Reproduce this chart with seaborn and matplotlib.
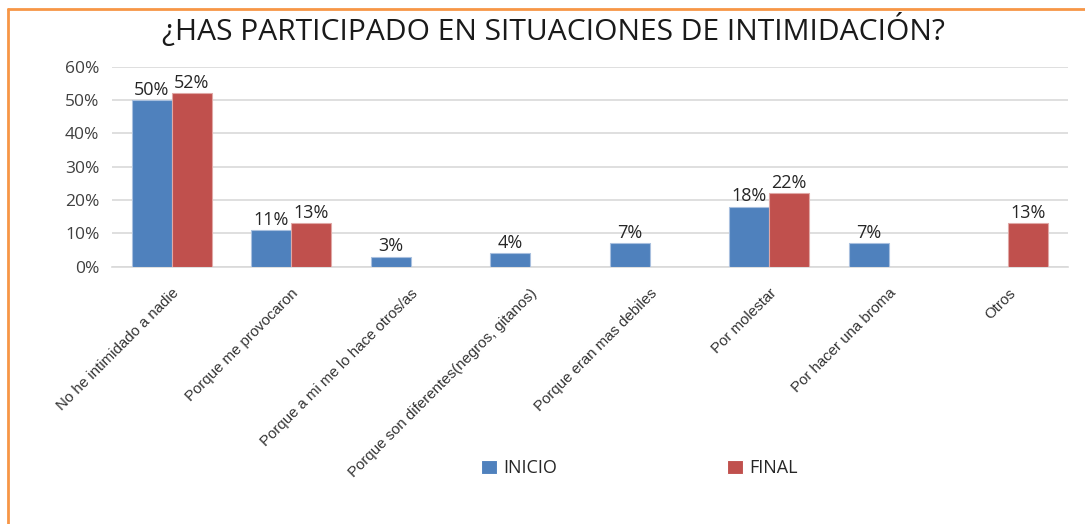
import matplotlib
matplotlib.use("Agg")
import matplotlib.pyplot as plt
import seaborn as sns
import pandas as pd
from matplotlib.ticker import PercentFormatter, MultipleLocator
from matplotlib.lines import Line2D

categories = [
    "No he intimidado a nadie",
    "Porque me provocaron",
    "Porque a mi me lo hace otros/as",
    "Porque son diferentes(negros, gitanos)",
    "Porque eran mas debiles",
    "Por molestar",
    "Por hacer una broma",
    "Otros",
]
inicio = [0.50, 0.11, 0.03, 0.04, 0.07, 0.18, 0.07, None]
final = [0.52, 0.13, None, None, None, 0.22, None, 0.13]
series = ["INICIO", "FINAL"]
title = "¿HAS PARTICIPADO EN SITUACIONES DE INTIMIDACIÓN?"

rows = []
for c, a, b in zip(categories, inicio, final):
    if a is not None:
        rows.append({"cat": c, "serie": "INICIO", "val": a})
    if b is not None:
        rows.append({"cat": c, "serie": "FINAL", "val": b})
df = pd.DataFrame(rows)

sns.set_theme(style="white")
plt.rcParams["font.family"] = ["Liberation Sans", "DejaVu Sans"]

fig = plt.figure(figsize=(10.85, 5.24), dpi=100)
ax = fig.add_axes([0.1032, 0.491, 0.881, 0.3817])

sns.barplot(data=df, x="cat", y="val", hue="serie", order=categories,
            hue_order=series, palette=["#4F81BD", "#C0504D"], saturation=1,
            errorbar=None, width=0.67, ax=ax, linewidth=0.8, zorder=3)
for cont, ec in zip(ax.containers, ["#a9c0df", "#e0a8a6"]):
    for p in cont:
        p.set_edgecolor(ec)

ax.set_ylim(0, 0.6)
ax.yaxis.set_major_locator(MultipleLocator(0.1))
ax.yaxis.set_major_formatter(PercentFormatter(1.0, decimals=0))
ax.grid(axis="y", color="#d9d9d9", linewidth=1.2, zorder=0)
ax.set_axisbelow(True)
for s in ["top", "right", "left"]:
    ax.spines[s].set_visible(False)
ax.spines["bottom"].set_color("#d9d9d9")
ax.spines["bottom"].set_linewidth(1.2)
ax.set_xlabel("")
ax.set_ylabel("")
ax.tick_params(axis="y", labelsize=12.5, colors="#404040", pad=9, length=0)
for t in ax.get_yticklabels():
    t.set_family(["Open Sans", "DejaVu Sans"])
ax.tick_params(axis="x", length=0, pad=14)
ax.set_xticks(range(len(categories)))
ax.set_xticklabels(categories, rotation=45, ha="right", rotation_mode="anchor",
                   fontsize=10.8, color="#333333")
ax.set_xlim(-0.5, len(categories) - 0.5)

for cont in ax.containers:
    ax.bar_label(cont, labels=[f"{p.get_height()*100:.0f}%" for p in cont],
                 fontsize=13, color="#262626", padding=1,
                 family=["Open Sans", "DejaVu Sans"])

leg = ax.legend(loc="center", bbox_to_anchor=(0.552, -1.0065), ncol=2,
                frameon=False, fontsize=13, handlelength=0.9,
                handleheight=0.8, columnspacing=9.4, handletextpad=0.35,
                borderpad=0, borderaxespad=0)
for t in leg.get_texts():
    t.set_color("#262626")
    t.set_family(["Open Sans", "DejaVu Sans"])

fig.text(0.51, 0.942, title, ha="center", va="center", fontsize=21.6,
         color="#1a1a1a", family=["Open Sans", "DejaVu Sans"])

# orange border (left and top edges)
fig.add_artist(Line2D([7.5 / 1085, 7.5 / 1085], [0, 1 - 8.5 / 524],
                      transform=fig.transFigure, color="#f79646", linewidth=2))
fig.add_artist(Line2D([7.5 / 1085, 1], [1 - 8.5 / 524, 1 - 8.5 / 524],
                      transform=fig.transFigure, color="#f79646", linewidth=2))

fig.savefig("out.png", dpi=100, facecolor="white")
